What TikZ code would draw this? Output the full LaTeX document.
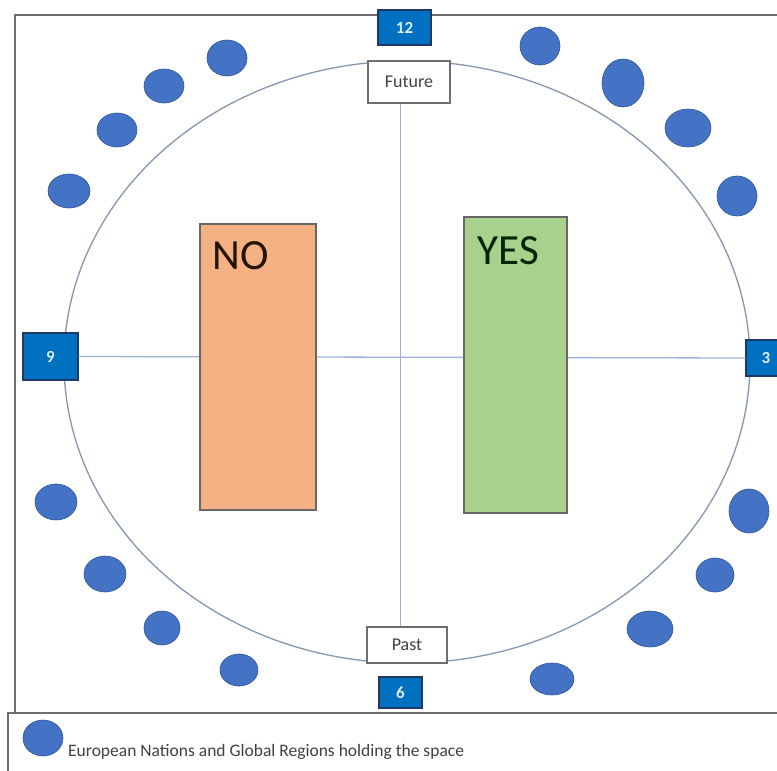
\documentclass[tikz,border=0pt]{standalone}
\usepackage{fontspec}
\setmainfont{Carlito}
\usetikzlibrary{shapes.geometric}
\definecolor{dotblue}{HTML}{4472C4}
\definecolor{dotedge}{HTML}{2F5597}
\definecolor{boxblue}{HTML}{0070C0}
\definecolor{boxedge}{HTML}{1F3864}
\definecolor{ringcol}{HTML}{8497B0}
\definecolor{axiscol}{HTML}{9DB3D9}
\definecolor{framecol}{HTML}{6E6E6E}
\definecolor{nofill}{HTML}{F4B183}
\definecolor{yesfill}{HTML}{A9D18E}
\definecolor{labtext}{HTML}{DDEBF7}
\begin{document}
\begin{tikzpicture}[x=1pt,y=-1pt,
  frame/.style={draw=framecol,line width=1.8pt},
  ring/.style={draw=ringcol,line width=1.3pt},
  axis/.style={draw=axiscol,line width=1.3pt},
  bluebox/.style={draw=boxedge,line width=1.2pt,fill=boxblue,text=labtext,inner sep=0pt,font=\fontsize{17}{17}\selectfont\bfseries},
  whitebox/.style={draw=framecol,line width=1.4pt,fill=white,text=black!75,inner sep=0pt,font=\fontsize{18}{18}\selectfont},
  answer/.style={draw=black!60,line width=1.3pt,inner sep=0pt},
  bigtext/.style={anchor=north west,inner sep=0pt,font=\fontsize{43}{43}\selectfont},
  dot/.style={ellipse,draw=dotedge,line width=0.6pt,fill=dotblue,inner sep=0pt}]
\path[use as bounding box] (0,0) rectangle (777,771);
\fill[white] (0,0) rectangle (777,771);
% outer frame and legend frame
\draw[frame] (15,713) -- (15,15) -- (777,15);
\draw[frame] (777,713) -- (8,713) -- (8,771);
% circle
\draw[ring] (407,362) ellipse [x radius=343, y radius=301];
% clock labels
\node[bluebox,minimum width=53pt,minimum height=35pt] (n12) at (404.5,27.5) {12};
\node[bluebox,minimum width=55pt,minimum height=47pt] (n9) at (50.5,356.5) {9};
\node[bluebox,minimum width=40pt,minimum height=36pt] (n3) at (766,358) {3};
\node[bluebox,minimum width=43pt,minimum height=31pt] (n6) at (400.5,692.5) {6};
\node[whitebox,minimum width=82pt,minimum height=42pt] (future) at (409,82) {Future};
\node[whitebox,minimum width=80pt,minimum height=36pt] (past) at (407,645) {Past};
% axes
\draw[axis] (n9.east) -- (n3.west);
\draw[axis] (future.south -| n6.center) -- (past.north -| n6.center);
% answer boxes
\node[answer,fill=nofill,minimum width=116pt,minimum height=286pt] (no) at (258,367) {};
\node[answer,fill=yesfill,minimum width=103pt,minimum height=296pt] (yes) at (515.5,365) {};
\node[bigtext,text=black!85!orange] (notext) at ([shift={(13,18)}]no.north west) {NO};
\node[bigtext,text=black!85!green] (yestext) at ([shift={(14,20)}]yes.north west) {YES};
% dots
\node[dot,minimum width=40pt,minimum height=36pt] (d1) at (227,58) {};
\node[dot,minimum width=40pt,minimum height=34pt] (d2) at (164,86) {};
\node[dot,minimum width=40pt,minimum height=34pt] (d3) at (117,130) {};
\node[dot,minimum width=42pt,minimum height=34pt] (d4) at (69,191) {};
\node[dot,minimum width=40pt,minimum height=38pt] (d5) at (540,46) {};
\node[dot,minimum width=42pt,minimum height=48pt] (d6) at (623,83) {};
\node[dot,minimum width=46pt,minimum height=38pt] (d7) at (688,128) {};
\node[dot,minimum width=40pt,minimum height=40pt] (d8) at (737,196) {};
\node[dot,minimum width=42pt,minimum height=36pt] (d9) at (56,502) {};
\node[dot,minimum width=42pt,minimum height=36pt] (d10) at (105,574) {};
\node[dot,minimum width=36pt,minimum height=34pt] (d11) at (162,628) {};
\node[dot,minimum width=38pt,minimum height=32pt] (d12) at (239,670) {};
\node[dot,minimum width=40pt,minimum height=44pt] (d13) at (749,511) {};
\node[dot,minimum width=38pt,minimum height=34pt] (d14) at (715,575) {};
\node[dot,minimum width=46pt,minimum height=36pt] (d15) at (650,629) {};
\node[dot,minimum width=44pt,minimum height=32pt] (d16) at (552,679) {};
% legend
\node[dot,minimum width=40pt,minimum height=36pt] (legdot) at (43,738) {};
\node[anchor=base west,inner sep=0pt,text=black!75,font=\fontsize{17.5}{17.5}\selectfont] (legtext) at (68,756) {European Nations and Global Regions holding the space};
\end{tikzpicture}
\end{document}
